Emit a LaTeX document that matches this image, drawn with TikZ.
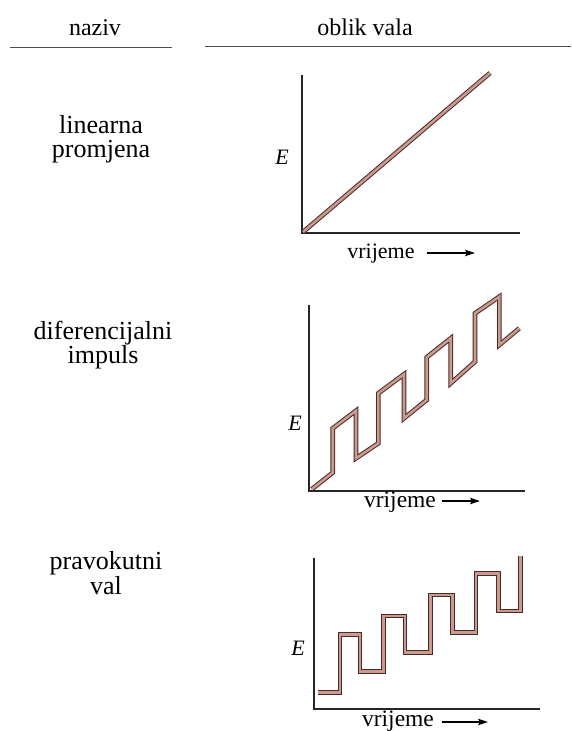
\documentclass[tikz,border=0pt]{standalone}
\usepackage{fontspec}
\setmainfont{Liberation Serif}
\usetikzlibrary{arrows.meta,positioning}
\definecolor{wavedark}{HTML}{4A2A26}
\definecolor{wavefill}{HTML}{C99A8F}
\definecolor{rulegray}{HTML}{4D4D4D}

\begin{document}
\begin{tikzpicture}[x=1pt,y=-1pt,
  head/.style={font=\fontsize{24}{24}\selectfont,anchor=base,inner sep=0pt},
  wavename/.style={font=\fontsize{26}{23.5}\selectfont,align=center,inner sep=0pt},
  axis/.style={line width=1.4pt,black!85},
  wave/.style={draw=wavedark,double=wavefill,line width=1pt,double distance=2.6pt},
  tlabel/.style={font=\fontsize{22}{22}\selectfont,anchor=base,inner sep=0pt},
  elabel/.style={font=\fontsize{22}{22}\selectfont\itshape,inner sep=0pt},
  tarrow/.style={-{Stealth[length=10pt,width=6.5pt,inset=2pt]},line width=1.1pt}]
  \useasboundingbox (0,0) rectangle (571,731);
  % header
  \node[head] (naziv) at (95,35) {naziv};
  \node[head] (oblik) at (365,35) {oblik vala};
  \draw[rulegray,line width=0.9pt] (10,47)--(172,47);
  \draw[rulegray,line width=0.9pt] (205,46)--(571,46);
  % names
  \node[wavename] (lin) at (101,139) {linearna\\promjena};
  \node[wavename] (dif) at (103,345) {diferencijalni\\impuls};
  \node[wavename] (pra) at (106,573) {pravokutni\\val};
  % linear ramp
  \draw[axis] (302,75) |- (520,233);
  \draw[wave] (303,232)--(490,73);
  \node[elabel] (E1) at (282,157) {E};
  \node[tlabel] (t1) at (381,258) {vrijeme};
  \coordinate (a1) at (427,253);
  \coordinate (b1) at (475,253);
  \draw[tarrow] (a1)--(b1);
  % differential pulse
  \draw[axis] (309,305) |- (525,491);
  \draw[wave] (311.7,489.3)--(332.7,472.7)--(332.7,428.3)--(356,410.7)--(356,458.3)
    --(378.3,443.3)--(378.3,393.3)--(404,374.3)--(404,418.3)--(426.7,400)
    --(426.7,357.3)--(450.7,338.3)--(450.7,383.3)--(475,361.7)--(475,313.3)
    --(499.3,296.7)--(499.3,345)--(519.3,328.3);
  \node[elabel] (E2) at (295,423) {E};
  \node[tlabel,font=\fontsize{23.5}{23.5}\selectfont] (t2) at (400,507) {vrijeme};
  \coordinate (a2) at (442,501);
  \coordinate (b2) at (480,501);
  \draw[tarrow] (a2)--(b2);
  % square wave
  \draw[axis] (314,558) |- (540,709);
  \draw[wave] (317.7,692.7)--(340,692.7)--(340,634.3)--(360,634.3)--(360,671.7)
    --(383.3,671.7)--(383.3,616)--(405,616)--(405,652.7)--(430.7,652.7)
    --(430.7,595)--(452.7,595)--(452.7,632.7)--(476,632.7)--(476,573.3)
    --(498.3,573.3)--(498.3,611)--(520.7,611)--(520.7,556);
  \node[elabel] (E3) at (298,648) {E};
  \node[tlabel,font=\fontsize{23.5}{23.5}\selectfont] (t3) at (398,726) {vrijeme};
  \coordinate (a3) at (442,722);
  \coordinate (b3) at (488,722);
  \draw[tarrow] (a3)--(b3);
\end{tikzpicture}
\end{document}
